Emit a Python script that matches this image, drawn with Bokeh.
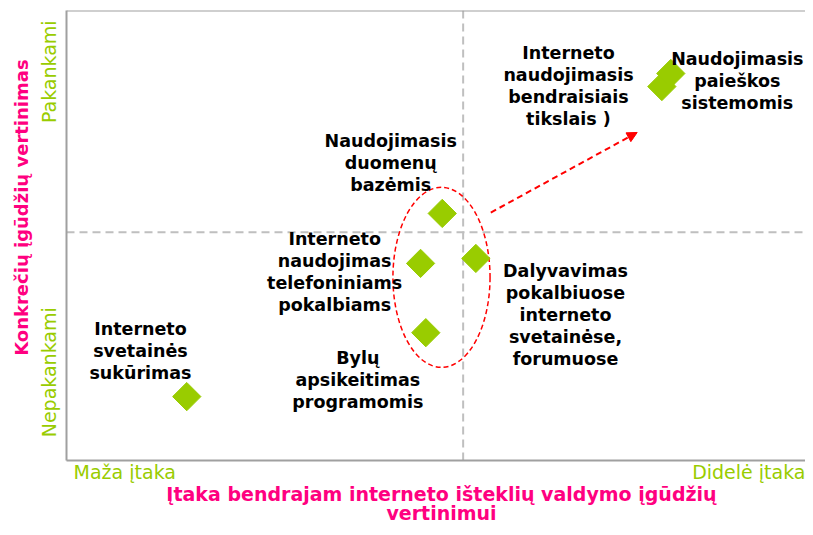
from bokeh.plotting import figure
from bokeh.models import Range1d, Span, Arrow, NormalHead, LinearAxis, FixedTicker
from bokeh.core.properties import value
from bokeh.embed import file_html
from bokeh.resources import INLINE

# ---- data (0..100 scale on both axes) ----
pt_x = [16.1, 48.1, 47.4, 50.3, 54.8, 79.7, 80.9]
pt_y = [14.2, 28.4, 43.8, 54.9, 44.9, 83.1, 86.0]

lbl_text = [
    "Interneto\nsvetainės\nsukūrimas",
    "Bylų\napsikeitimas\nprogramomis",
    "Interneto\nnaudojimas\ntelefoniniams\npokalbiams",
    "Naudojimasis\nduomenų\nbazėmis",
    "Dalyvavimas\npokalbiuose\ninterneto\nsvetainėse,\nforumuose",
    "Interneto\nnaudojimasis\nbendraisiais\ntikslais )",
    "Naudojimasis\npaieškos\nsistemomis",
]
lbl_x = [9.9, 39.0, 35.9, 43.4, 66.8, 67.2, 89.8]
lbl_y = [24.4, 17.8, 41.8, 66.2, 32.4, 83.3, 84.4]

x_mid = 53.1
y_mid = 50.7

x_title = ["Įtaka bendrajam interneto išteklių valdymo įgūdžių", "vertinimui"]
x_title_pos = 50.2
y_title = "Konkrečių įgūdžių vertinimas"
y_title_pos = 56.2
x_ends = {7.8: "Maža įtaka", 91.4: "Didelė įtaka"}
y_ends = {19.6: "Nepakankami", 86.4: "Pakankami"}

# group ellipse and arrow
ell_cx, ell_cy, ell_w, ell_h = 50.2, 40.7, 13.0, 40.0
arr_start = (56.8, 55.1)
arr_end = (76.4, 72.9)

GREEN = "#99CC00"
PINK = "#FF0080"
FRAME = "#A0A0A0"
FONT = "DejaVu Sans"

p = figure(width=805, height=527, output_backend="svg", toolbar_location=None,
           x_range=Range1d(0, 98.93), y_range=Range1d(0, 100),
           min_border_left=66, min_border_right=0, min_border_top=10, min_border_bottom=67)
p.grid.visible = False
p.outline_line_color = None
p.background_fill_color = "white"
p.border_fill_color = "white"


def style_axis(ax, color, size, bold, standoff, line):
    ax.major_tick_line_color = None
    ax.minor_tick_line_color = None
    ax.major_tick_out = 0
    ax.major_tick_in = 0
    ax.axis_line_color = FRAME if line else None
    ax.axis_line_width = 2
    ax.major_label_text_color = color
    ax.major_label_text_font = FONT
    ax.major_label_text_font_size = size
    ax.major_label_text_font_style = "bold" if bold else "normal"
    ax.major_label_standoff = standoff


# main axes carry the end labels and frame lines
xa = p.xaxis[0]
xa.ticker = FixedTicker(ticks=list(x_ends.keys()))
xa.major_label_overrides = x_ends
style_axis(xa, GREEN, "19px", False, 0, True)

ya = p.yaxis[0]
ya.ticker = FixedTicker(ticks=list(y_ends.keys()))
ya.major_label_overrides = y_ends
ya.major_label_orientation = "vertical"
style_axis(ya, GREEN, "19px", False, 6, True)

# title axes
xt1 = LinearAxis(ticker=FixedTicker(ticks=[x_title_pos]),
                 major_label_overrides={x_title_pos: x_title[0]})
style_axis(xt1, PINK, "19px", True, -3, False)
p.add_layout(xt1, "below")
xt2 = LinearAxis(ticker=FixedTicker(ticks=[x_title_pos]),
                 major_label_overrides={x_title_pos: x_title[1]})
style_axis(xt2, PINK, "19px", True, -6, False)
p.add_layout(xt2, "below")

yt = LinearAxis(ticker=FixedTicker(ticks=[y_title_pos]),
                major_label_overrides={y_title_pos: y_title})
yt.major_label_orientation = "vertical"
style_axis(yt, PINK, "18px", True, 3, False)
p.add_layout(yt, "left")

# top frame line
p.add_layout(Span(location=100, dimension="width", line_color=FRAME, line_width=2))

# quadrant dashed lines
p.add_layout(Span(location=x_mid, dimension="height", line_color="#BFBFBF",
                  line_width=2, line_dash="8 5", level="underlay"))
p.add_layout(Span(location=y_mid, dimension="width", line_color="#BFBFBF",
                  line_width=2, line_dash="8 5", level="underlay"))

# ellipse grouping
p.ellipse(x=[ell_cx], y=[ell_cy], width=[ell_w], height=[ell_h], fill_color=None,
          line_color="red", line_width=1.5, line_dash="5 3")

# arrow
p.add_layout(Arrow(x_start=arr_start[0], y_start=arr_start[1], x_end=arr_end[0], y_end=arr_end[1],
                   line_color="red", line_width=2, line_dash="6 4",
                   end=NormalHead(size=10, fill_color="red", line_color="red")))

# points
p.scatter(pt_x, pt_y, marker="square", size=20, angle=0.785398,
          fill_color=GREEN, line_color=GREEN)

# point labels
p.text(lbl_x, lbl_y, text=lbl_text, text_align="center", text_baseline="middle",
       text_font=value(FONT), text_font_style="bold", text_font_size="17.5px",
       text_color="black", text_line_height=1.1)

open("out.html", "w").write(file_html(p, INLINE))
